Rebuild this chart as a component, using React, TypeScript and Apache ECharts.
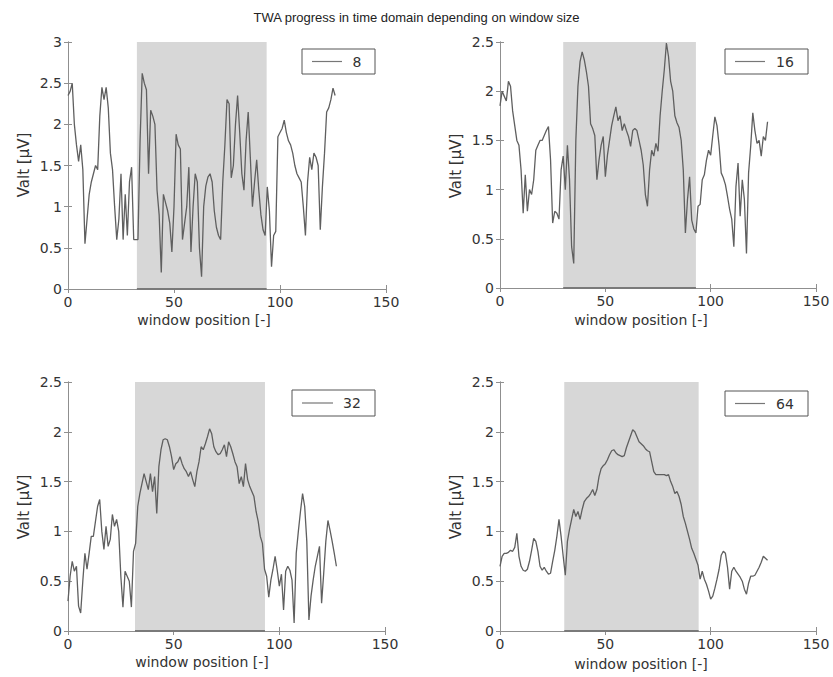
import React, { useEffect, useRef } from 'react';
import * as echarts from 'echarts';

const titleText = 'TWA progress in time domain depending on window size';
const windowSizes = ['8', '16', '32', '64'];
const xLabel = 'window position [-]';
const yLabel = 'Valt [µV]';
const xMin = 0;
const xMax = 150;
const xInterval = 50;
const yMaxes = [3, 2.5, 2.5, 2.5];
const yInterval = 0.5;
const shadeRanges = [
  [32.5, 93.7],
  [30, 93],
  [31.7, 93.2],
  [30.5, 94.3],
];

const win8 = [
  2.35, 2.4, 2.5, 2.0, 1.75, 1.55, 1.75, 1.45, 0.55, 0.85,
  1.15, 1.3, 1.4, 1.5, 1.45, 2.1, 2.45, 2.3, 2.45, 2.2,
  1.65, 1.45, 1.0, 0.6, 0.85, 1.4, 0.6, 1.15, 0.65, 1.3,
  1.48, 0.6, 0.6, 0.6, 1.8, 2.62, 2.5, 2.42, 1.4, 2.17,
  2.1, 2.0, 1.2, 0.9, 0.2, 1.15, 1.05, 0.95, 0.8, 0.45,
  1.0, 1.88, 1.75, 1.7, 0.6, 0.8, 1.0, 1.48, 0.45, 1.0,
  1.4, 1.3, 0.5, 0.15, 1.0, 1.25, 1.36, 1.4, 1.3, 0.95,
  0.75, 0.65, 0.6, 1.3, 1.75, 2.3, 2.25, 1.35, 1.5, 2.0,
  2.35, 1.9, 1.4, 1.2, 1.8, 2.15, 1.6, 1.0, 1.3, 1.57,
  1.2, 0.9, 0.72, 0.65, 1.24, 0.95, 0.27, 0.65, 0.7, 1.85,
  1.9, 1.95, 2.05, 1.9, 1.8, 1.75, 1.65, 1.5, 1.4, 1.35,
  1.3, 1.0, 0.65, 1.3, 1.6, 1.45, 1.65, 1.6, 1.5, 0.72,
  1.24, 1.65, 2.15, 2.2, 2.3, 2.44, 2.35,
];

const win16 = [
  1.85, 2.0, 1.95, 1.9, 2.1, 2.05, 1.8, 1.65, 1.5, 1.45,
  1.2, 0.76, 1.15, 0.78, 1.0, 0.95, 1.1, 1.4, 1.45, 1.5,
  1.5, 1.55, 1.6, 1.64, 1.3, 0.66, 0.78, 0.76, 0.7, 1.2,
  1.34, 1.0, 1.45, 1.1, 0.42, 0.25, 1.5, 2.05, 2.3, 2.4,
  2.32, 2.2, 2.05, 1.67, 1.62, 1.55, 1.1, 1.3, 1.45, 1.54,
  1.13, 1.35, 1.5, 1.65, 1.75, 1.84, 1.7, 1.75, 1.6, 1.67,
  1.6, 1.54, 1.44, 1.6, 1.62, 1.6, 1.5, 1.4, 1.25, 0.95,
  0.83, 1.2, 1.4, 1.34, 1.47, 1.39, 1.75, 2.0, 2.22, 2.49,
  2.35, 2.1, 2.0, 1.75, 1.68, 1.63, 1.5, 1.2, 0.56, 0.9,
  1.13, 0.69, 0.6, 0.56, 0.83, 0.85, 1.1, 1.15, 1.3, 1.4,
  1.35, 1.55, 1.74, 1.65, 1.45, 1.17, 1.12, 1.05, 0.93, 0.8,
  0.7, 0.42, 1.03, 1.27, 0.73, 1.1, 0.9, 0.35, 1.17, 1.44,
  1.78, 1.6, 1.47, 1.5, 1.34, 1.54, 1.5, 1.69,
];

const win32 = [
  0.3, 0.55, 0.7, 0.6, 0.65, 0.25, 0.18, 0.5, 0.78, 0.62,
  0.78, 0.95, 0.95, 1.1, 1.25, 1.32, 1.0, 0.82, 1.05, 0.85,
  0.92, 1.17, 1.05, 1.12, 1.0, 0.55, 0.24, 0.6, 0.55, 0.5,
  0.24, 0.8, 0.88, 1.25, 1.38, 1.48, 1.58, 1.5, 1.42, 1.58,
  1.4, 1.55, 1.18, 1.65, 1.82, 1.92, 1.93, 1.92, 1.85, 1.75,
  1.62, 1.68, 1.7, 1.75, 1.68, 1.63, 1.6, 1.55, 1.6, 1.52,
  1.45, 1.6, 1.7, 1.85, 1.82, 1.88, 1.95, 2.03, 1.98, 1.85,
  1.8, 1.77, 1.78, 1.82, 1.87, 1.75, 1.9, 1.85, 1.78, 1.7,
  1.65, 1.48, 1.55, 1.45, 1.68, 1.52, 1.45, 1.4, 1.35, 1.2,
  1.1, 0.95, 0.88, 0.62, 0.55, 0.34, 0.51, 0.62, 0.75, 0.61,
  0.45, 0.57, 0.21, 0.6, 0.65, 0.61, 0.51, 0.08, 0.78, 1.0,
  1.2, 1.38, 1.25, 0.9, 0.11, 0.35, 0.51, 0.65, 0.75, 0.85,
  0.28, 0.58, 0.9, 1.11, 1.01, 0.9, 0.78, 0.65,
];

const win64 = [
  0.65, 0.75, 0.78, 0.78, 0.79, 0.81, 0.8, 0.84, 0.98, 0.75,
  0.65, 0.61, 0.6, 0.62, 0.7, 0.81, 0.93, 0.9, 0.8, 0.65,
  0.61, 0.64, 0.6, 0.57, 0.58, 0.7, 0.81, 0.95, 1.12, 0.95,
  0.75, 0.56, 0.9, 1.02, 1.12, 1.22, 1.15, 1.2, 1.12, 1.22,
  1.3, 1.33, 1.35, 1.38, 1.42, 1.36, 1.42, 1.55, 1.63, 1.66,
  1.68, 1.72, 1.77, 1.81, 1.82, 1.79, 1.77, 1.76, 1.75, 1.76,
  1.84, 1.9, 1.96, 2.02, 2.0, 1.95, 1.9, 1.88, 1.86, 1.83,
  1.81, 1.8, 1.7, 1.6, 1.57, 1.57, 1.57, 1.57, 1.57, 1.56,
  1.57, 1.5, 1.45, 1.38, 1.4, 1.35, 1.27, 1.15, 1.08, 1.0,
  0.92, 0.83, 0.78, 0.72, 0.66, 0.52, 0.6, 0.52, 0.47, 0.4,
  0.32, 0.35, 0.43, 0.52, 0.62, 0.76, 0.8, 0.78, 0.64, 0.42,
  0.6, 0.64, 0.6, 0.57, 0.54, 0.5, 0.42, 0.37, 0.48, 0.55,
  0.55, 0.56, 0.6, 0.64, 0.69, 0.75, 0.73, 0.71,
];

const seriesValues = [win8, win16, win32, win64];

// layout (pixels)
const grids = [
  { left: 68, top: 42, width: 318, height: 247 },
  { left: 500, top: 42, width: 316, height: 246 },
  { left: 68, top: 382, width: 317, height: 249 },
  { left: 500, top: 382, width: 316, height: 249 },
];
const legendBoxes = [
  { x: 302, y: 49, w: 73, h: 25, lx1: 312, lx2: 342, tx: 357 },
  { x: 725, y: 49, w: 83, h: 25, lx1: 735, lx2: 765, tx: 785 },
  { x: 292, y: 390, w: 83, h: 26, lx1: 302, lx2: 333, tx: 352 },
  { x: 725, y: 391, w: 83, h: 25, lx1: 735, lx2: 765, tx: 785 },
];
const xNamePos = [
  { x: 204, y: 320 },
  { x: 641, y: 320 },
  { x: 202, y: 662 },
  { x: 641, y: 664 },
];
const yNamePos = [
  { x: 24, y: 165 },
  { x: 456, y: 166 },
  { x: 24, y: 507 },
  { x: 456, y: 507 },
];

const FONT = 'DejaVu Sans, Verdana, sans-serif';
const TITLE_FONT = 'Liberation Sans, Arial, Helvetica, sans-serif';
const AXIS_COLOR = '#8f8f8f';
const TEXT_COLOR = '#333';
const LINE_COLOR = '#5f5f5f';
const SHADE_COLOR = '#d7d7d7';

export default function App() {
  const ref = useRef<HTMLDivElement>(null);

  useEffect(() => {
    if (!ref.current) return;
    const chart = echarts.init(ref.current, undefined, { renderer: 'svg' });

    const xAxis: any[] = [];
    const yAxis: any[] = [];
    const series: any[] = [];
    const graphic: any[] = [];

    const axisCommon = {
      type: 'value',
      axisLine: { show: true, lineStyle: { color: AXIS_COLOR, width: 1 } },
      axisTick: { show: true, inside: true, length: 4, lineStyle: { color: AXIS_COLOR } },
      splitLine: { show: false },
    };

    grids.forEach((g, i) => {
      xAxis.push({
        ...axisCommon,
        gridIndex: i,
        min: xMin,
        max: xMax,
        interval: xInterval,
        axisLabel: { fontSize: 14, color: TEXT_COLOR, fontFamily: FONT, margin: 6 },
      });
      xAxis.push({
        ...axisCommon,
        gridIndex: i,
        position: 'top',
        min: xMin,
        max: xMax,
        interval: xInterval,
        axisLabel: { show: false },
      });
      yAxis.push({
        ...axisCommon,
        gridIndex: i,
        min: 0,
        max: yMaxes[i],
        interval: yInterval,
        axisLabel: { fontSize: 14, color: TEXT_COLOR, fontFamily: FONT, margin: 6 },
      });
      yAxis.push({
        ...axisCommon,
        gridIndex: i,
        position: 'right',
        min: 0,
        max: yMaxes[i],
        interval: yInterval,
        axisLabel: { show: false },
      });

      const [s0, s1] = shadeRanges[i];
      series.push({
        type: 'line',
        name: windowSizes[i],
        xAxisIndex: 2 * i,
        yAxisIndex: 2 * i,
        data: seriesValues[i].map((v, j) => [j, v]),
        symbol: 'none',
        showSymbol: false,
        lineStyle: { color: LINE_COLOR, width: 1.3 },
        z: 3,
        markArea: {
          silent: true,
          itemStyle: { color: SHADE_COLOR, borderWidth: 0 },
          data: [[{ xAxis: s0 }, { xAxis: s1 }]],
        },
      });
      series.push({
        type: 'line',
        xAxisIndex: 2 * i,
        yAxisIndex: 2 * i,
        data: [[s0, 0], [s1, 0]],
        symbol: 'none',
        showSymbol: false,
        lineStyle: { color: '#7a7a7a', width: 2 },
        z: 4,
        clip: false,
      });

      const lb = legendBoxes[i];
      graphic.push({
        type: 'rect',
        z: 100,
        shape: { x: lb.x, y: lb.y, width: lb.w, height: lb.h },
        style: { fill: '#fff', stroke: '#555', lineWidth: 1 },
      });
      graphic.push({
        type: 'line',
        z: 101,
        shape: { x1: lb.lx1, y1: lb.y + lb.h / 2, x2: lb.lx2, y2: lb.y + lb.h / 2 },
        style: { stroke: '#777', lineWidth: 1.2 },
      });
      graphic.push({
        type: 'text',
        z: 101,
        style: {
          text: windowSizes[i],
          x: lb.tx,
          y: lb.y + lb.h / 2,
          align: 'center',
          verticalAlign: 'middle',
          fontSize: 14,
          fontFamily: FONT,
          fill: TEXT_COLOR,
        },
      });

      const xp = xNamePos[i];
      graphic.push({
        type: 'text',
        z: 101,
        style: {
          text: xLabel,
          x: xp.x,
          y: xp.y,
          align: 'center',
          verticalAlign: 'middle',
          fontSize: 14,
          fontFamily: FONT,
          fill: TEXT_COLOR,
        },
      });
      const yp = yNamePos[i];
      graphic.push({
        type: 'text',
        z: 101,
        x: yp.x,
        y: yp.y,
        rotation: Math.PI / 2,
        style: {
          text: yLabel,
          x: 0,
          y: 0,
          align: 'center',
          verticalAlign: 'middle',
          fontSize: 15,
          fontFamily: FONT,
          fill: TEXT_COLOR,
        },
      });
    });

    chart.setOption({
      animation: false,
      backgroundColor: '#fff',
      title: {
        text: titleText,
        left: 'center',
        top: 6,
        textStyle: { fontSize: 13, fontWeight: 'normal', color: '#222', fontFamily: TITLE_FONT },
      },
      grid: grids.map((g) => ({ ...g, containLabel: false })),
      xAxis,
      yAxis,
      series,
      graphic,
    });

    return () => chart.dispose();
  }, []);

  return (
    <div
      ref={ref}
      style={{ position: 'fixed', left: 0, top: 0, width: 833, height: 677, background: '#fff' }}
    />
  );
}
